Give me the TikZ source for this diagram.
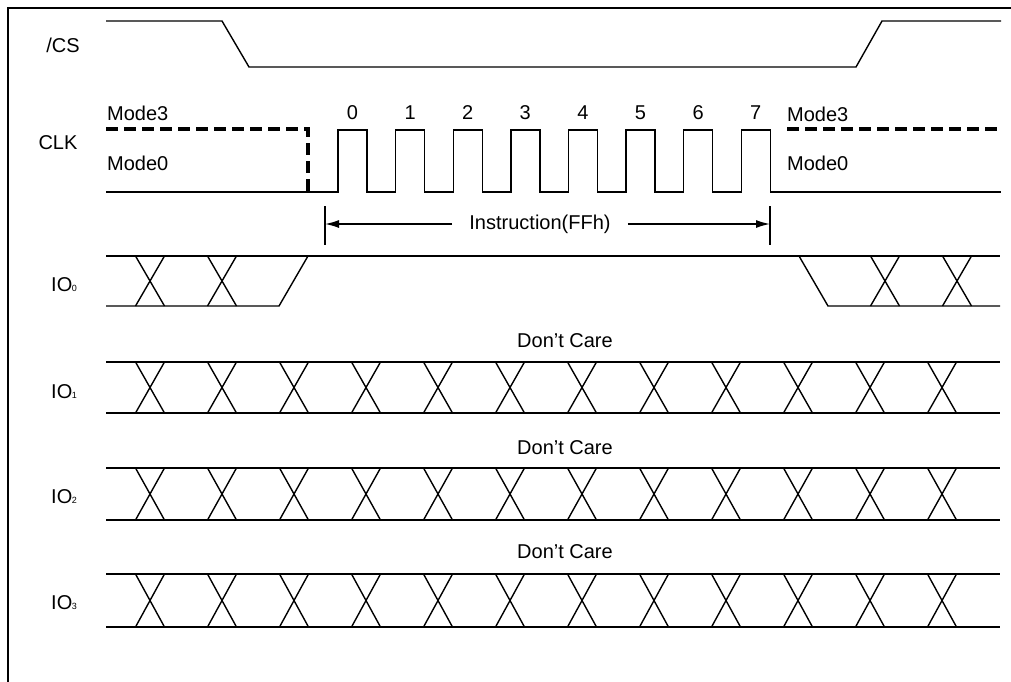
\documentclass[tikz,border=0pt]{standalone}
\usepackage{fontspec}
\setmainfont{Liberation Sans}
\usetikzlibrary{arrows.meta}
\tikzset{
  sig/.style={line width=1.4pt, line join=miter},
  dsig/.style={line width=3.2pt, dash pattern=on 12pt off 6pt},
  lbl/.style={font=\fontsize{20}{23}\selectfont, inner sep=0pt},
  framel/.style={line width=2.6pt},
  arr/.style={line width=1.4pt, -{Latex[length=14pt,width=8pt]}},
}
\newcommand{\ioname}[1]{IO\kern-0.5pt{\fontsize{9}{9}\selectfont #1}}
\begin{document}
\begin{tikzpicture}[x=1pt,y=-1pt]
\useasboundingbox (0,0) rectangle (1011,681);
\draw[framel] (8,682) -- (8,8) -- (1012,8);

% /CS
\node[lbl] (cs) at (63,45) {/CS};
\draw[sig] (106,21) -- (222,21) -- (249,67) -- (856,67) -- (882,21) -- (1001,21);

% CLK
\node[lbl] (clk) at (58,143) {CLK};
\node[lbl,anchor=west] (m3l) at (107,113) {Mode3};
\node[lbl,anchor=west] (m0l) at (107,163) {Mode0};
\node[lbl,anchor=west] (m3r) at (787,114) {Mode3};
\node[lbl,anchor=west] (m0r) at (787,163) {Mode0};
\draw[dsig] (106,129) -- (308,129) -- (308,193);
\draw[dsig] (787,129) -- (1001,129);
\draw[sig] (106,192) -- (338,192)
  \foreach \i in {0,...,7} { -- ++(0,-62) -- ++(29,0) -- ++(0,62) -- ++(28.6,0) }
  -- (1001,192);
\foreach \i in {0,...,7} {
  \node[lbl] (n\i) at ({352.5+57.6*\i},113) {\i};
}

% Instruction arrow
\coordinate (tl) at (325,224);
\coordinate (tr) at (770,224);
\draw[sig] (325,206) -- (325,245);
\draw[sig] (770,206) -- (770,245);
\node[lbl, inner xsep=17pt] (instr) at (540,224) {Instruction(FFh)};
\draw[arr] (instr.west) -- (tl);
\draw[arr] (instr.east) -- (tr);

% IO0
\node[lbl] (io0) at (64,285) {\ioname{0}};
\draw[sig] (106,256) -- (1000,256);
\draw[sig] (106,306) -- (279,306) -- (308,256);
\draw[sig] (799,256) -- (828,306) -- (1000,306);
\foreach \c in {150,222,885,957} {
  \draw[sig] (\c-14.5,256) -- (\c+14.5,306);
  \draw[sig] (\c-14.5,306) -- (\c+14.5,256);
}

% IO1..IO3
\foreach \n/\t/\b/\ly/\dy in {1/362/413/392/341, 2/468/520/497/448, 3/574/627/603/552} {
  \node[lbl] (io\n) at (64,\ly) {\ioname{\n}};
  \node[lbl] (dc\n) at (565,\dy) {Don't Care};
  \draw[sig] (106,\t) -- (1000,\t);
  \draw[sig] (106,\b) -- (1000,\b);
  \foreach \k in {0,...,11} {
    \pgfmathsetmacro\c{150+72*\k}
    \draw[sig] (\c-14.5,\t) -- (\c+14.5,\b);
    \draw[sig] (\c-14.5,\b) -- (\c+14.5,\t);
  }
}
\end{tikzpicture}
\end{document}
